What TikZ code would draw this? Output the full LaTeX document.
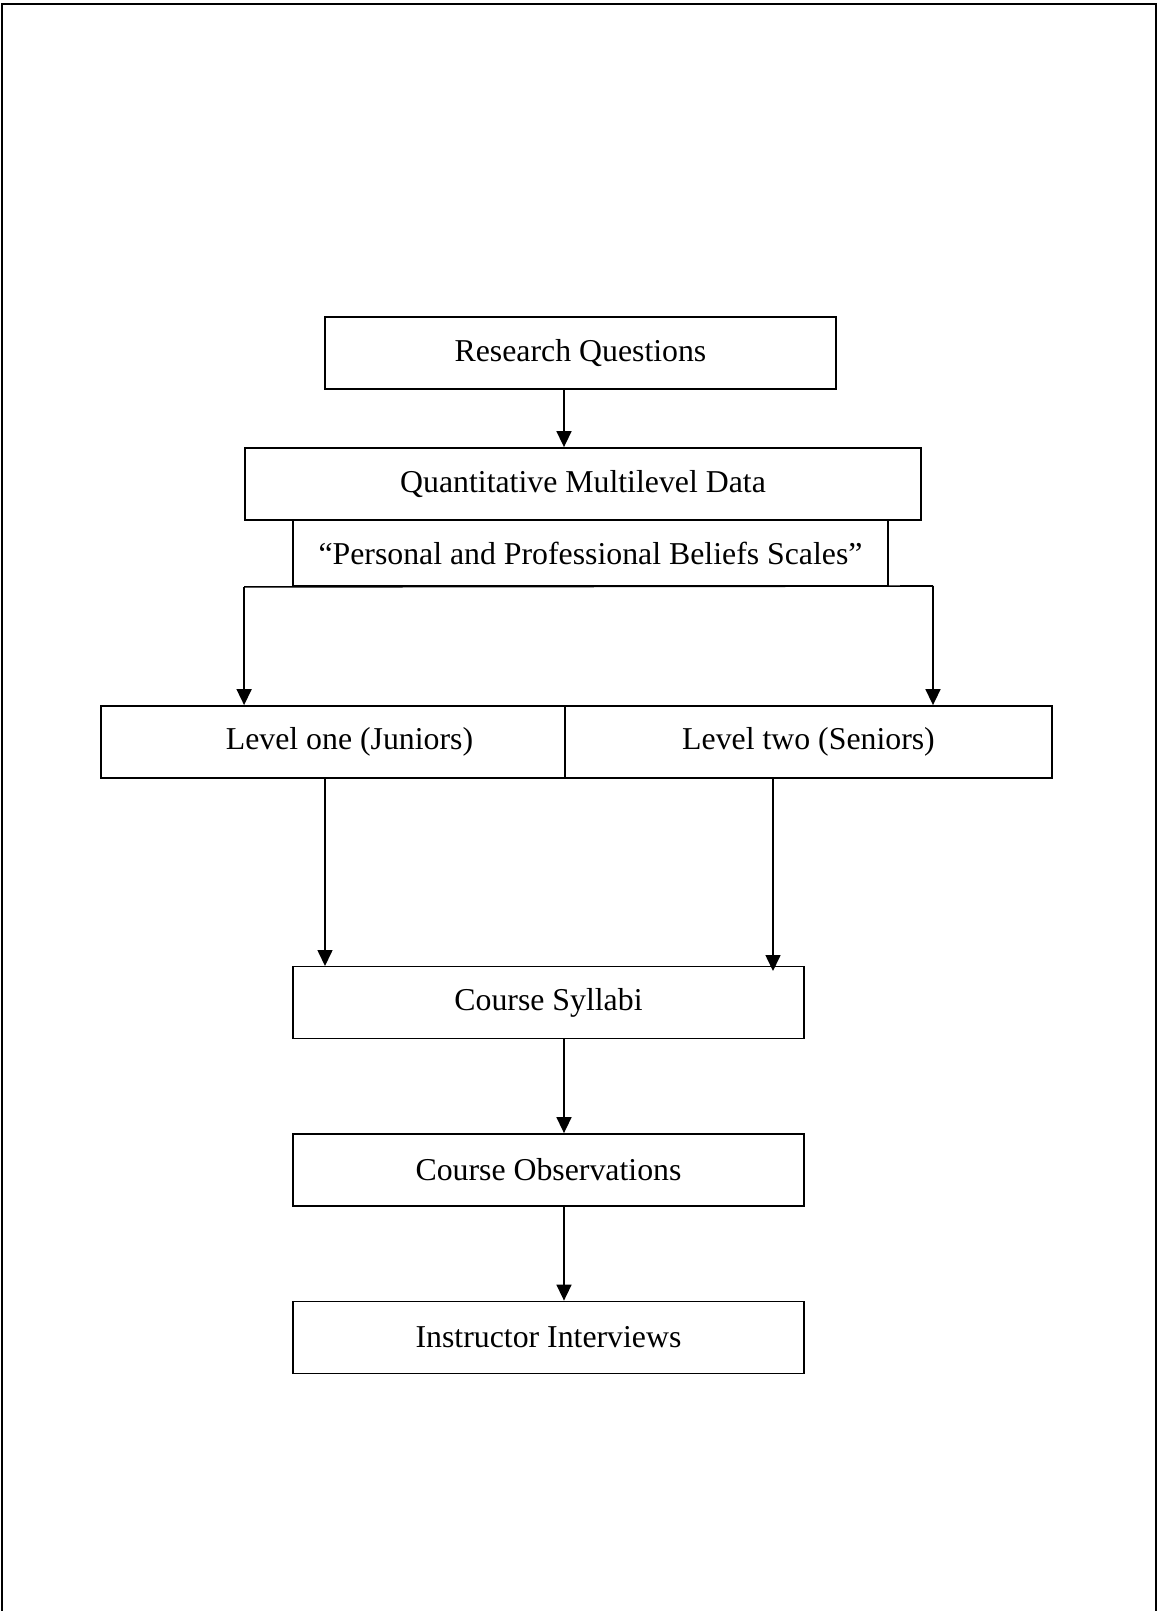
\documentclass[tikz,border=0pt]{standalone}
\usepackage{fontspec}
\setmainfont{Liberation Serif}
\usetikzlibrary{arrows.meta}
\usetikzlibrary{positioning}

\tikzset{
    stagebox/.style={draw, line width=1.8pt, fill=white, rectangle, inner sep=0pt,
        minimum height=72pt, font=\fontsize{31.8}{38}\selectfont},
    flowarrow/.style={-{Triangle[length=16pt, width=15pt]}, line width=1.6pt}
}

\begin{document}
\begin{tikzpicture}[x=1pt, y=-1pt]
                \useasboundingbox(0, 0) rectangle (1157, 1611);
                \draw[line width=2.8pt](2, 1611)--(2, 4)--(1156, 4)--(1156, 1611);

                \node[stagebox, minimum width=511pt](rq) at (580.5, 353){Research Questions};
                \node[stagebox, minimum width=676pt](qmd) at (583, 484){Quantitative Multilevel Data};
                \node[stagebox, minimum width=595pt, minimum height=66pt](ppbs) at (590.5, 553){``Personal and Professional Beliefs Scales''};

                \node[stagebox, minimum width=497pt](lvone) at (349.5, 742){Level one (Juniors)};
                \node[stagebox, minimum width=487pt](lvtwo) at (808.5, 742){Level two (Seniors)};

                \node[stagebox, minimum width=511pt](syl) at (548.5, 1002.5){Course Syllabi};
                \node[stagebox, minimum width=511pt](obs) at (548.5, 1170){Course Observations};
                \node[stagebox, minimum width=511pt](intv) at (548.5, 1337.5){Instructor Interviews};

                \draw[flowarrow]([xshift=-16.5pt]rq.south)--([xshift=-16.5pt]rq.south |- qmd.north);

                \coordinate(splitl) at (qmd.west |- ppbs.south);
                \coordinate(splitr) at (933, 586);
                \draw[line width=1.6pt](splitl)--(splitr);
                \draw[flowarrow](splitl)--(splitl |- lvone.north);
                \draw[flowarrow](splitr)--(splitr |- lvtwo.north);

                \draw[flowarrow](325, 778)--(325, 966);
                \draw[flowarrow](773, 778)--(773, 971);

                \draw[flowarrow]([xshift=15.5pt]syl.south)--([xshift=15.5pt]obs.north);
                \draw[flowarrow]([xshift=15.5pt]obs.south)--([xshift=15.5pt]intv.north);
            \end{tikzpicture}
\end{document}
